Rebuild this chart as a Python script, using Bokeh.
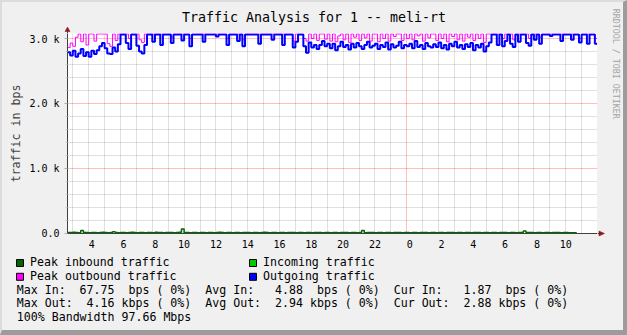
from bokeh.plotting import figure
from bokeh.layouts import column, row
from bokeh.models import Range1d, FixedTicker, Label
from bokeh.embed import file_html
from bokeh.resources import INLINE
import numpy as np

# ---------------- data ----------------
title_text = "Traffic Analysis for 1 -- meli-rt"
y_label = "traffic in bps"
watermark = "RRDTOOL / TOBI OETIKER"

start_hour = 2 + 40 / 60      # 02:40 on day 1 (hours since midnight of day 1)
end_hour = 36.0               # 12:00 on day 2
step = 1 / 6                  # 10-minute samples

# Outgoing traffic (kbps)
out_k = [
    2.79, 2.74, 2.81, 2.72, 2.77, 2.84, 2.73, 2.79, 2.72, 2.81,
    2.76, 2.82, 2.88, 2.93, 2.85, 2.77, 2.76, 2.86, 2.80, 2.91,
    3.06, 3.06, 2.93, 2.84, 3.06, 3.06, 2.89, 2.80, 2.77, 2.90,
    3.06, 3.06, 2.95, 3.06, 3.06, 2.90, 3.06, 3.06, 3.06, 2.93,
    3.06, 3.06, 3.06, 2.97, 3.06, 3.06, 2.88, 3.06, 3.06, 3.06,
    3.06, 2.95, 3.06, 3.06, 3.06, 3.06, 3.03, 3.06, 3.06, 3.06,
    2.90, 3.06, 3.06, 3.06, 2.96, 3.06, 2.88, 3.06, 3.06, 3.06,
    3.06, 3.06, 2.92, 3.06, 3.06, 3.06, 3.06, 2.98, 3.06, 3.06,
    3.06, 2.90, 3.06, 3.06, 3.06, 2.86, 2.95, 3.06, 3.06, 2.88,
    2.78, 2.94, 2.86, 2.90, 2.84, 2.90, 2.96, 2.88, 2.92, 2.85,
    2.92, 2.82, 2.88, 2.95, 2.87, 2.90, 2.83, 2.92, 2.86, 2.93,
    2.88, 2.84, 2.90, 2.95, 2.86, 2.89, 2.92, 2.84, 2.90, 2.87,
    2.94, 2.83, 2.91, 2.86, 2.89, 2.95, 2.85, 2.90, 2.88, 2.92,
    2.85, 2.96, 2.87, 2.90, 2.84, 2.93, 2.88, 2.86, 2.91, 2.87,
    2.94, 2.85, 2.90, 2.83, 2.92, 2.88, 2.95, 2.86, 2.90, 2.84,
    2.91, 2.87, 2.93, 2.82, 2.90, 2.86, 2.92, 2.80, 2.88, 2.94,
    3.06, 3.06, 2.90, 3.06, 2.88, 2.96, 3.06, 2.92, 2.87, 3.06,
    2.95, 3.06, 3.06, 2.93, 2.89, 3.06, 2.98, 3.06, 2.92, 3.06,
    3.06, 3.06, 3.04, 3.06, 3.06, 3.06, 2.96, 3.06, 3.06, 3.06,
    2.98, 3.06, 3.06, 2.94, 3.06, 3.06, 2.92, 3.06, 3.06, 2.92,
    2.90,
]

# Peak outbound traffic (kbps)
peak_out_k = [
    2.86, 2.93, 2.88, 3.02, 3.07, 2.95, 3.07, 2.90, 3.07, 3.07,
    2.96, 3.07, 3.07, 3.07, 3.07, 2.92, 2.88, 3.07, 2.97, 3.07,
    3.07, 3.07, 3.07, 3.00, 3.07, 3.07, 3.07, 2.98, 2.94, 3.07,
    3.07, 3.07, 3.07, 3.07, 3.07, 3.07, 3.07, 3.07, 3.07, 3.02,
    3.07, 3.07, 3.07, 3.07, 3.07, 3.07, 3.00, 3.07, 3.07, 3.07,
    3.07, 3.07, 3.07, 3.07, 3.07, 3.07, 3.07, 3.07, 3.07, 3.07,
    3.00, 3.07, 3.07, 3.07, 3.07, 3.07, 2.98, 3.07, 3.07, 3.07,
    3.07, 3.07, 3.07, 3.07, 3.07, 3.07, 3.07, 3.07, 3.07, 3.07,
    3.07, 3.07, 3.07, 3.07, 3.07, 2.96, 3.07, 3.07, 3.07, 3.00,
    2.96, 3.07, 3.00, 3.07, 2.97, 3.07, 3.07, 2.99, 3.07, 2.96,
    3.07, 2.95, 3.04, 3.07, 2.98, 3.07, 2.94, 3.07, 3.02, 3.07,
    2.97, 3.07, 3.01, 3.07, 2.96, 3.07, 3.07, 2.95, 3.07, 3.00,
    3.07, 2.96, 3.07, 3.03, 3.07, 3.07, 2.97, 3.07, 3.00, 3.07,
    2.98, 3.07, 3.04, 3.07, 2.96, 3.07, 3.01, 3.07, 3.07, 2.97,
    3.07, 3.00, 3.07, 2.95, 3.07, 3.03, 3.07, 2.98, 3.07, 2.96,
    3.07, 3.02, 3.07, 2.97, 3.07, 3.00, 3.07, 2.94, 3.07, 3.07,
    3.07, 3.07, 3.07, 3.07, 3.00, 3.07, 3.07, 3.07, 2.98, 3.07,
    3.07, 3.07, 3.07, 3.07, 3.00, 3.07, 3.07, 3.07, 3.02, 3.07,
    3.07, 3.07, 3.07, 3.07, 3.07, 3.07, 3.07, 3.07, 3.07, 3.07,
    3.07, 3.07, 3.07, 3.00, 3.07, 3.07, 3.07, 3.07, 3.07, 3.00,
    2.98,
]

# Incoming traffic (bps)
in_bps = [
    5, 6, 8, 5, 4, 9, 6, 5, 4, 6, 5, 4, 6, 7, 5, 4, 6, 9, 5, 4,
    5, 6, 4, 5, 7, 5, 4, 6, 5, 4, 6, 5, 4, 7, 5, 6, 4, 5, 6, 5,
    4, 6, 7, 12, 6, 5, 4, 6, 5, 4, 5, 6, 4, 5, 6, 4, 5, 7, 5, 4,
    6, 5, 4, 5, 6, 4, 5, 6, 5, 4, 5, 6, 4, 5, 7, 5, 4, 6, 5, 4,
    5, 6, 4, 5, 6, 5, 4, 6, 5, 4, 5, 6, 4, 5, 6, 5, 4, 6, 5, 4,
    5, 6, 4, 5, 6, 5, 4, 6, 5, 4, 5, 9, 4, 5, 6, 5, 4, 6, 5, 4,
    5, 6, 4, 5, 6, 5, 4, 6, 5, 4, 5, 6, 4, 5, 6, 5, 4, 6, 5, 4,
    5, 6, 4, 5, 6, 5, 4, 6, 5, 4, 5, 6, 4, 5, 6, 5, 4, 6, 5, 4,
    5, 6, 4, 5, 6, 5, 4, 6, 5, 4, 5, 6, 8, 5, 6, 5, 4, 6, 5, 4,
    5, 6, 4, 5, 6, 5, 4, 6, 5, 4, 4, 3, 2,
]

# Peak inbound traffic (bps)
peak_in_bps = [
    14, 16, 18, 14, 12, 45, 16, 14, 12, 15, 14, 12, 16, 18, 14, 12, 16, 28, 14, 12,
    14, 16, 12, 14, 18, 14, 12, 16, 14, 12, 16, 14, 12, 20, 14, 16, 12, 14, 16, 14,
    12, 16, 18, 67.75, 16, 14, 12, 16, 14, 12, 14, 16, 12, 14, 16, 12, 14, 18, 14, 12,
    16, 14, 12, 14, 16, 12, 14, 16, 14, 12, 14, 16, 12, 14, 18, 14, 12, 16, 14, 12,
    14, 16, 12, 14, 16, 14, 12, 16, 14, 12, 14, 16, 12, 14, 16, 14, 12, 16, 14, 12,
    14, 16, 12, 14, 16, 14, 12, 16, 14, 12, 14, 45, 12, 14, 16, 14, 12, 16, 14, 12,
    14, 16, 12, 14, 16, 14, 12, 16, 14, 12, 14, 16, 12, 14, 16, 14, 12, 16, 14, 12,
    14, 16, 12, 14, 16, 14, 12, 16, 14, 12, 14, 16, 12, 14, 16, 14, 12, 16, 14, 12,
    14, 16, 12, 14, 16, 14, 12, 16, 14, 12, 14, 16, 40, 14, 16, 14, 12, 16, 14, 12,
    14, 16, 12, 14, 16, 14, 12, 16, 14, 12, 12, 10, 8,
]

x_ticks = [4, 6, 8, 10, 12, 14, 16, 18, 20, 22, 24, 26, 28, 30, 32, 34]
x_tick_labels = ["\u00a04", "\u00a06", "\u00a08", "10", "12", "14", "16", "18",
                 "20", "22", "\u00a00", "\u00a02", "\u00a04", "\u00a06", "\u00a08", "10"]
x_minor = [3, 4, 5, 6, 7, 8, 9, 10, 11, 12, 13, 14, 15, 16, 17, 18, 19, 20, 21, 22, 23,
           25, 26, 27, 28, 29, 30, 31, 32, 33, 34, 35]
x_major_grid = [24]

y_max = 3077
y_ticks = [0, 1000, 2000, 3000]
y_tick_labels = ["0.0", "1.0 k", "2.0 k", "3.0 k"]
y_minor = [200, 400, 600, 800, 1200, 1400, 1600, 1800, 2200, 2400, 2600, 2800]

legend_rows = [
    ["Peak inbound traffic", "Incoming traffic"],
    ["Peak outbound traffic", "Outgoing traffic"],
]
stat_lines = [
    "Max In:  67.75  bps ( 0%)  Avg In:   4.88  bps ( 0%)  Cur In:   1.87  bps ( 0%)",
    "Max Out:  4.16 kbps ( 0%)  Avg Out:  2.94 kbps ( 0%)  Cur Out:  2.88 kbps ( 0%)",
    "100% Bandwidth 97.66 Mbps",
]

# ---------------- style / layout (image pixel geometry) ----------------
FONT = "DejaVu Sans Mono"
BG = "#F0F0F0"
AXIS = "#404040"
ARROW = "#8B1A1A"
colors = {
    "Peak inbound traffic": "#006600",
    "Incoming traffic": "#00CC00",
    "Peak outbound traffic": "#FF00FF",
    "Outgoing traffic": "#0000FF",
}
BL, BT, BR, BB = 2, 2, 4, 5          # shaded frame of the image
FL, FT, FR, FB = 67, 33, 597, 233    # plot area
MAIN_BOTTOM = 254                    # bottom of the strip holding the x labels
IMG_W, IMG_H = 627, 335
INNER_BOTTOM = IMG_H - BB
STRIP_R = IMG_W - BR
BASE_FIX = 0.383                     # (ascent - x-height) of the font, in em
LEG_SIZE = 11.6
TITLE_SIZE = 13.3


def nbsp(s):
    return s.replace(" ", "\u00a0")


def base(y, size):
    """Label y giving a text baseline at image row y."""
    return y - BASE_FIX * size


def pixel_figure(x0, x1, y0, y1):
    """A bare figure whose data coordinates are image pixels (y downwards)."""
    f = figure(width=x1 - x0, height=y1 - y0, x_range=Range1d(x0, x1),
               y_range=Range1d(y1, y0), output_backend="svg", toolbar_location=None,
               x_axis_location=None, y_axis_location=None, min_border=0,
               background_fill_color=BG, border_fill_color=BG, outline_line_color=None)
    f.grid.visible = False
    f.frame_align = False
    return f


# header with the title and the y-axis arrow
head = pixel_figure(BL, FR, BT, FT)
head.add_layout(Label(x=IMG_W / 2, y=base(21.7, TITLE_SIZE), text=title_text,
                      text_font=FONT, text_font_size=f"{TITLE_SIZE}px",
                      text_align="center", text_baseline="alphabetic",
                      text_color="black"))
head.segment(x0=[FL], y0=[30], x1=[FL], y1=[FT], line_color=AXIS, line_width=1)
head.patch(x=[FL - 2.5, FL, FL + 2.5], y=[31, 26.5, 31], fill_color=ARROW,
           line_color=ARROW, line_width=0.5)

# main plot
p = figure(width=FR - BL, height=MAIN_BOTTOM - FT, x_range=Range1d(start_hour, end_hour),
           y_range=Range1d(0, y_max), output_backend="svg", toolbar_location=None,
           min_border_left=FL - BL, min_border_right=0, min_border_top=0,
           min_border_bottom=MAIN_BOTTOM - FB,
           background_fill_color="white", border_fill_color=BG, outline_line_color=None)
p.frame_align = False

p.xaxis.ticker = FixedTicker(ticks=x_ticks, minor_ticks=x_minor)
p.xaxis.major_label_overrides = dict(zip(x_ticks, x_tick_labels))
p.yaxis.ticker = FixedTicker(ticks=y_ticks, minor_ticks=y_minor)
p.yaxis.major_label_overrides = dict(zip(y_ticks, y_tick_labels))
for ax in (p.xaxis, p.yaxis):
    ax.axis_line_color = AXIS
    ax.major_label_text_font = FONT
    ax.major_label_text_font_size = "10px"
    ax.major_label_text_color = "black"
    ax.minor_tick_in = 0
    ax.major_tick_in = 0
p.xaxis.major_tick_out = 0
p.xaxis.minor_tick_out = 0
p.xaxis.major_label_standoff = 5
p.yaxis.major_tick_out = 3
p.yaxis.minor_tick_out = 2
p.yaxis.major_tick_line_color = "#B0B0B0"
p.yaxis.minor_tick_line_color = "#D0D0D0"
p.yaxis.major_label_standoff = 5
p.yaxis.axis_label = y_label
p.yaxis.axis_label_text_font = FONT
p.yaxis.axis_label_text_font_size = "11.6px"
p.yaxis.axis_label_text_font_style = "normal"
p.yaxis.axis_label_standoff = 3

p.xgrid.ticker = FixedTicker(ticks=x_major_grid, minor_ticks=x_minor)
for g in (p.xgrid, p.ygrid):
    g.grid_line_color = "#FF0000"
    g.grid_line_alpha = 0.25
    g.minor_grid_line_color = "#8C8C8C"
    g.minor_grid_line_alpha = 0.27

t = start_hour + np.arange(len(out_k)) * step
p.varea_step(x=t, y1=0, y2=in_bps, step_mode="after",
             fill_color=colors["Incoming traffic"])
p.step(t, peak_in_bps, mode="after", line_color=colors["Peak inbound traffic"],
       line_width=1.5)
p.step(t, np.array(peak_out_k) * 1000, mode="after",
       line_color=colors["Peak outbound traffic"], line_width=1)
p.step(t, np.array(out_k) * 1000, mode="after",
       line_color=colors["Outgoing traffic"], line_width=2)

# legend / statistics strip
leg = pixel_figure(BL, FR, MAIN_BOTTOM, INNER_BOTTOM)
col_sq = [16, 249]
col_tx = [29.5, 262.5]
row_base = [266, 279.8]
sq_l, sq_r, sq_t, sq_b, sq_c = [], [], [], [], []
for r, names in enumerate(legend_rows):
    for c, name in enumerate(names):
        b = row_base[r]
        sq_l.append(col_sq[c]); sq_r.append(col_sq[c] + 7)
        sq_t.append(b - 7); sq_b.append(b); sq_c.append(colors[name])
        leg.add_layout(Label(x=col_tx[c], y=base(b, LEG_SIZE), text=nbsp(name),
                             text_font=FONT, text_font_size=f"{LEG_SIZE}px",
                             text_baseline="alphabetic", text_align="left",
                             text_color="black"))
leg.quad(left=sq_l, right=sq_r, top=sq_t, bottom=sq_b, fill_color=sq_c,
         line_color="black", line_width=1)

stat_base = [293.5, 307.2, 321]
for s, line in enumerate(stat_lines):
    leg.add_layout(Label(x=16.3, y=base(stat_base[s], LEG_SIZE), text=nbsp(line),
                         text_font=FONT, text_font_size=f"{LEG_SIZE}px",
                         text_baseline="alphabetic", text_align="left",
                         text_color="black"))

# right strip: x-axis arrow and vertical watermark
side = pixel_figure(FR, STRIP_R, BT, INNER_BOTTOM)
side.segment(x0=[FR], y0=[FB], x1=[599], y1=[FB], line_color=AXIS, line_width=1)
side.patch(x=[598.5, 604, 598.5], y=[FB - 2.5, FB, FB + 2.5], fill_color=ARROW,
           line_color=ARROW, line_width=0.5)
side.add_layout(Label(x=615.5, y=8.3, text=nbsp(watermark), angle=-90, angle_units="deg",
                      text_font=FONT, text_font_size="8.3px", text_align="left",
                      text_baseline="middle", text_color="#A4A4A4"))

page = row(column(head, p, leg, spacing=0), side, spacing=0, styles={
    "border-style": "solid",
    "border-width": f"{BT}px {BR}px {BB}px {BL}px",
    "border-color": "#DCDCDC #9C9C9C #9C9C9C #DCDCDC",
    "background-color": BG,
})

open("out.html", "w").write(file_html(page, INLINE))
